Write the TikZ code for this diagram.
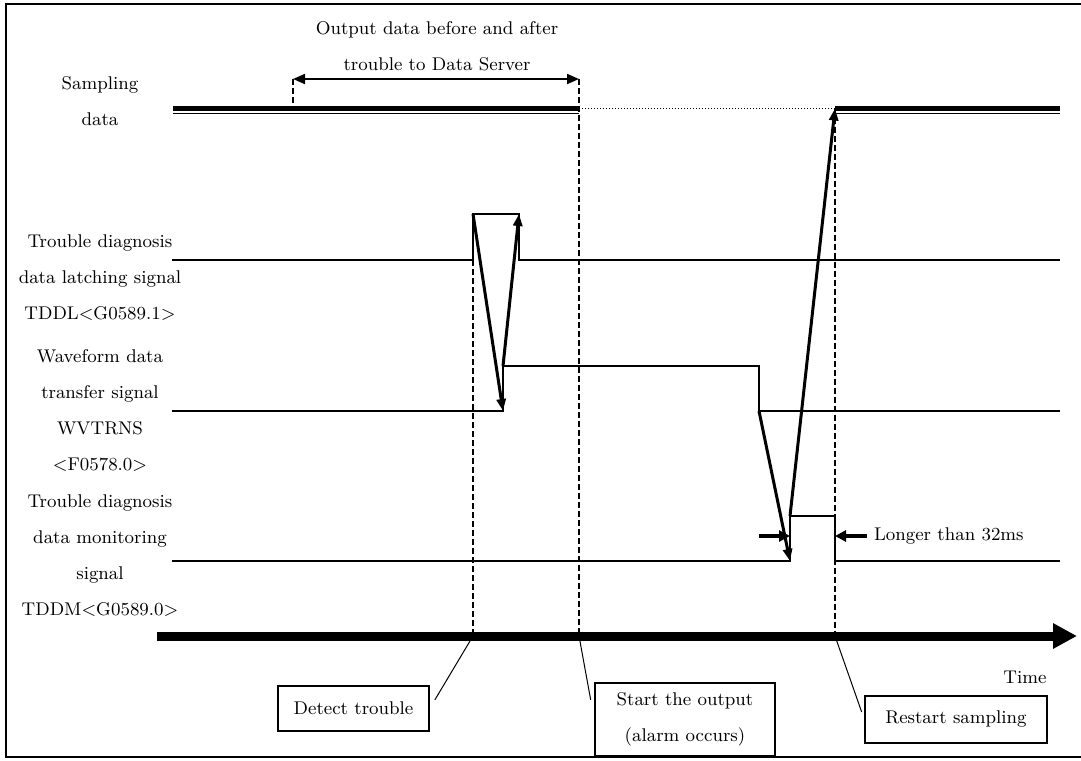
\documentclass[tikz,border=0pt]{standalone}
\usepackage{fontspec}
\usetikzlibrary{arrows.meta}

\begin{document}
\begin{tikzpicture}[x=0.5pt, y=-0.5pt,
  font=\fontsize{9.2}{18}\selectfont,
  sig/.style={line width=0.6pt},
  guide/.style={line width=1pt, dash pattern=on 3pt off 1.5pt},
  cause/.style={line width=1.5pt, -{Triangle[length=6pt,width=4.5pt]}},
  span/.style={line width=2pt, -{Triangle[length=5.5pt,width=5.5pt]}},
  tbox/.style={draw, line width=0.7pt, align=center, inner sep=0pt},
  lbl/.style={align=center},
  lead/.style={line width=0.5pt}]
\useasboundingbox (0,0) rectangle (1081,760);
\draw[line width=1.2pt] (1081,4) -| (6,757) -- (1081,757);

% levels of the three signals
\coordinate (l0) at (172,260); \coordinate (l2) at (473,214);
\coordinate (l3) at (519,214); \coordinate (l4) at (519,260);
\coordinate (l5) at (1060,260);
\coordinate (w0) at (172,411); \coordinate (w1) at (503,411);
\coordinate (w2) at (503,366); \coordinate (w4) at (759,411);
\coordinate (w5) at (1060,411);
\coordinate (m0) at (172,561); \coordinate (m1) at (790,561);
\coordinate (m2) at (790,516); \coordinate (m4) at (835,561);
\coordinate (m5) at (1060,561);
\coordinate (s0) at (173,108.5); \coordinate (s1) at (579,108.5);
\coordinate (s2) at (835,108.5); \coordinate (s3) at (1060,108.5);
\coordinate (wl) at (293,79); \coordinate (wr) at (579,79);
\coordinate (t0) at (157,636); \coordinate (t1) at (1077,636);

\node[lbl] (win) at (437,46) {Output data before and after\\trouble to Data Server};
\node[lbl] (samp) at (100,101) {Sampling\\data};
\node[lbl] (tddl) at (100,278) {Trouble diagnosis\\data latching signal\\TDDL<G0589.1>};
\node[lbl] (wvt) at (100,410) {Waveform data\\transfer signal\\WVTRNS\\<F0578.0>};
\node[lbl] (tddm) at (100,556) {Trouble diagnosis\\data monitoring\\signal\\TDDM<G0589.0>};
\node (time) at (1025,677) {Time};
\node[tbox, minimum width=75.5pt, minimum height=22.5pt] (det) at (353.5,708.5) {Detect trouble};
\node[tbox, minimum width=90pt, minimum height=36.5pt] (out) at (685,719.5) {Start the output\\(alarm occurs)};
\node[tbox, minimum width=91pt, minimum height=23.5pt] (rst) at (956,719.5) {Restart sampling};
\node[anchor=west] (lng) at (867,536) {Longer than 32ms};

\draw[line width=1pt, {Triangle[length=6pt,width=5pt]}-{Triangle[length=6pt,width=5pt]}] (wl) -- (wr);
\draw[guide] (wl) -- (wl |- s0);
\draw[guide] (wr) -- (wr |- t0);
\draw[guide] (l2 |- l0) -- (l2 |- t0);
\draw[guide] (s2) -- (s2 |- t0);

\draw[line width=2.6pt] (s0) -- (s1) (s2) -- (s3);
\draw[line width=0.6pt] ([yshift=-2.5pt]s0) -- ([yshift=-2.5pt]s1) ([yshift=-2.5pt]s2) -- ([yshift=-2.5pt]s3);
\draw[line width=0.5pt, densely dotted] (s1) -- (s2);

\draw[sig] (l0) -| (l2) -| (l4) -- (l5);
\draw[sig] (w0) -| (w2) -| (w4) -- (w5);
\draw[sig] (m0) -| (m2) -| (m4) -- (m5);

\draw[cause] (l2) -- (w1);
\draw[cause] (w2) -- (l3);
\draw[cause] (w4) -- (m1);
\draw[cause] (m2) -- (s2);

\draw[span] (w4 |- lng.west) -- (m1 |- lng.west);
\draw[span] (lng.west) -- (m4 |- lng.west);

\draw[lead, shorten >=5pt] (l2 |- t0) -- (det.east);
\draw[lead, shorten >=10pt] (s1 |- t0) -- (out.west);
\draw[lead, shorten >=4pt] (s2 |- t0) -- (rst.west);
\draw[line width=4.5pt, -{Triangle[length=12pt,width=12pt]}] (t0) -- (t1);
\end{tikzpicture}
\end{document}
